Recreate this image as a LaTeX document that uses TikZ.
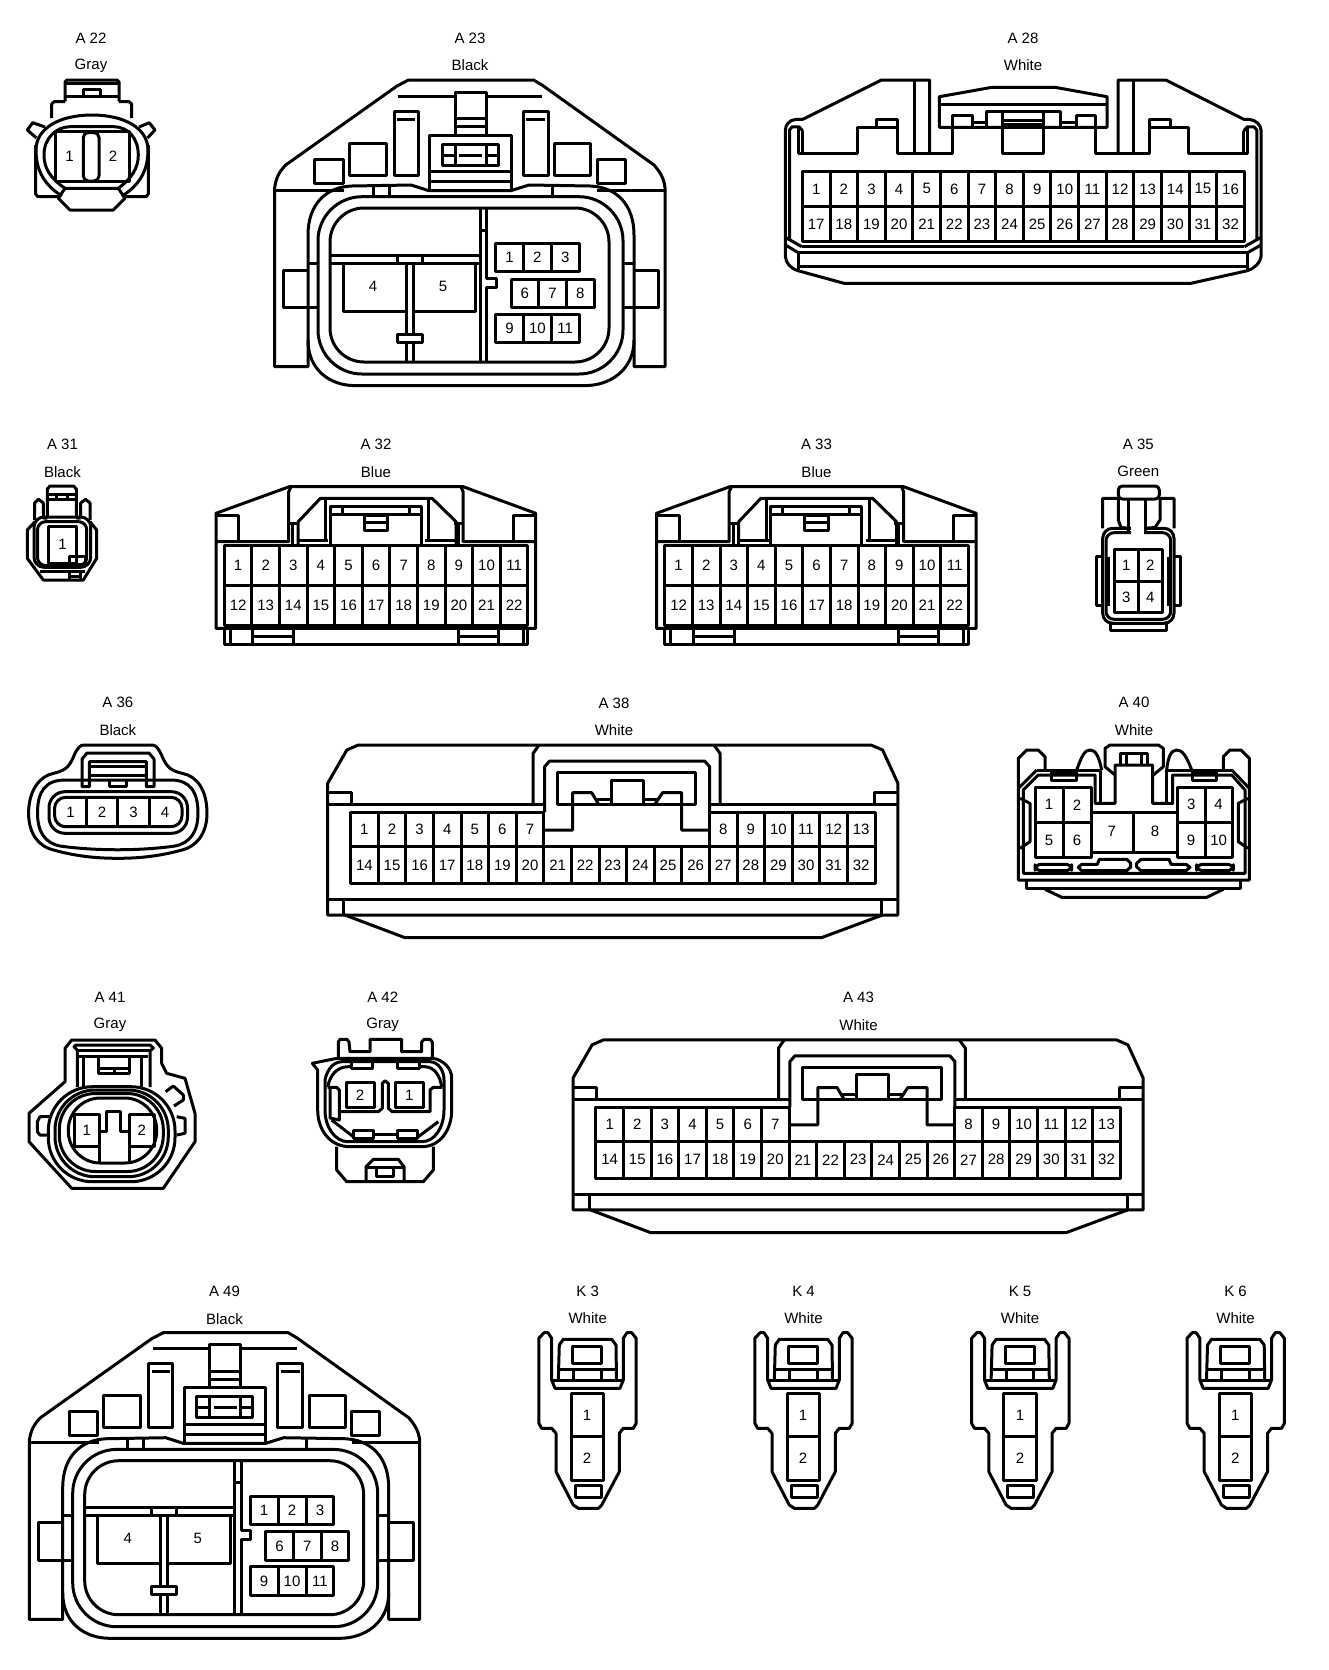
\documentclass[tikz,border=0pt]{standalone}
\usepackage{fontspec}
\setmainfont{Liberation Sans}
\tikzset{
  pintext/.style={font=\fontsize{7.5}{9}\selectfont, inner sep=0pt, text=black},
  conn/.style={line width=1.5pt, line join=round, draw=black},
  erase/.style={line width=2.2pt, draw=white},
}
\newcommand{\pintxt}[4]{\node[pintext] (#1) at (#2,#3) {#4};}
% prefix, x0, w, ytop, ybot, first, count
\newcommand{\cellrow}[7]{%
  \foreach \k in {1,...,#7}{%
    \pgfmathtruncatemacro\num{#6+\k-1}%
    \pgfmathsetmacro\xa{#2+(\k-1)*#3}%
    \pgfmathsetmacro\xb{#2+\k*#3}%
    \pgfmathsetmacro\xm{(\xa+\xb)/2}%
    \pgfmathsetmacro\ym{(#4+#5)/2}%
    \draw[conn] (\xa,#4) rectangle (\xb,#5);
    \node[pintext] (#1-\num) at (\xm,\ym) {\num};
  }%
}
\newcommand{\head}[6]{% id, x, y1, name, y2, colour
  \node[pintext] (#1-name) at (#2,#3) {#4};
  \node[pintext] (#1-col) at (#2,#5) {#6};
}

% --- A23 / A49 ---------------------------------------------------
\newcommand{\ConnBig}[1]{%
 \begin{scope}[conn]
 \draw (308,340) -- (308,366.7) -- (274.6,366.7) -- (274.6,188) .. controls (276,178) and (279,172) .. (285.7,165) -- (397,86) -- (408.5,80) -- (533.5,80) -- (542,85) -- (654,165) .. controls (660,172) and (664,178) .. (665,188) -- (665,366.7) -- (634,366.7) -- (634,340);
 \draw (274.6,190) -- (344,190) (597,190) -- (665,190);
 \draw (308,235) .. controls (308,205) and (325,187) .. (352,186) -- (411,185) -- (428.6,190.6) -- (511,190.6) -- (529,185) -- (590,186) .. controls (617,187) and (634,205) .. (634,235) -- (634,340) .. controls (634,370) and (610,385.6) .. (585,385.6) -- (355,385.6) .. controls (330,385.6) and (308,370) .. (308,340) -- cycle;
 \draw[rounded corners=22pt] (318,196.7) rectangle (623,374);
 \draw[rounded corners=17pt] (330,208) rectangle (609,362);
 \draw (373,186) -- (373,197) (389,186) -- (389,197) (552,186) -- (552,197);
 % top detail
 \draw (398,96) -- (455,96) (486,96) -- (542,96);
 \draw (455,135) -- (455,92) -- (486,92) -- (486,135);
 \draw (455,118.3) -- (486,118.3) (455,126.7) -- (486,126.7);
 \draw (429.5,190) -- (429.5,135) -- (511,135) -- (511,190);
 \draw (442,144) rectangle (498,165);
 \draw (455,144) -- (455,165) (486,144) -- (486,165);
 \draw (442,155) -- (455,155) (486,155) -- (498,155);
 \draw (459,155) -- (482,155);
 \draw (429.5,171.7) -- (511,171.7) (429.5,181.7) -- (511,181.7);
 \draw (394,111) rectangle (418,175);
 \draw (523,111) rectangle (548,175);
 \draw (397,119) -- (415,119) (526,119) -- (545,119);
 \draw (349,143) rectangle (386,175);
 \draw (554.5,143) rectangle (590.6,175);
 \draw (314.7,159) rectangle (343,183);
 \draw (597,159) rectangle (625,183);
 % side tabs
 \draw (308,270) -- (283.5,270) -- (283.5,307.3) -- (308,307.3);
 \draw (634,270) -- (658.5,270) -- (658.5,307.3) -- (634,307.3);
 \draw (308,263) -- (318,263) (308,307.3) -- (318,307.3);
 \draw (623,263) -- (634,263) (623,307.3) -- (634,307.3);
 % internals
 \draw (480,208) -- (480,362);
 \draw (486.6,208) -- (486.6,278) -- (496,278) -- (496,287) -- (486.6,287) -- (486.6,362);
 \draw (480,230) -- (486.6,230);
 \draw (331,255) -- (480,255) (331,263) -- (480,263);
 \draw (397,255) -- (397,263) (422,255) -- (422,263);
 \draw (343,263) -- (343,311) -- (405,311) (414,311) -- (475.4,311) -- (475.4,263);
 \draw (406,263) -- (406,334) (413,263) -- (413,334);
 \draw (397,334) rectangle (422,342);
 \draw (406,342) -- (406,362) (413,342) -- (413,362);
 \end{scope}
 \pintxt{#1-4}{373}{286}{4}
 \pintxt{#1-5}{443}{286}{5}
 \cellrow{#1}{495.5}{27.9}{243.3}{271.7}{1}{3}
 \cellrow{#1}{511}{27.7}{279}{307.3}{6}{3}
 \cellrow{#1}{495.5}{27.9}{314}{342.7}{9}{3}
}

% --- A32 / A33 ---------------------------------------------------
\newcommand{\ConnBlue}[1]{%
 \begin{scope}[conn]
 \draw (216,628.3) -- (216,513.3) -- (289.3,486.7) -- (463.2,486.7) -- (535.7,513.3) -- (535.7,628.3) -- cycle;
 \draw (224.3,628.3) -- (224.3,644) -- (527.9,644) -- (527.9,628.3);
 \draw (230.4,628.3) -- (230.4,644) (252.9,628.3) -- (252.9,644) (293.6,628.3) -- (293.6,644);
 \draw (458.2,628.3) -- (458.2,644) (498.2,628.3) -- (498.2,644) (523.2,628.3) -- (523.2,644);
 \draw (252.9,636.7) -- (293.6,636.7) (458.2,636.7) -- (498.2,636.7);
 \draw (216,515) -- (238.6,515) -- (238.6,541.7);
 \draw (216,541.7) -- (288.6,541.7) -- (288.6,492) -- (291,486.7);
 \draw (535.7,515) -- (513.2,515) -- (513.2,541.7);
 \draw (535.7,541.7) -- (463.2,541.7) -- (463.2,492) -- (461,486.7);
 \draw (288.6,523.3) -- (297,523.3) (463.2,523.3) -- (453.6,523.3);
 \draw (292.9,523.3) -- (292.9,545) (458.2,523.3) -- (458.2,545);
 \draw (298.2,545) -- (298.2,521.7) -- (320.4,498.3) -- (432.1,498.3) -- (456,521.7) -- (456,545);
 \draw (298.2,540.7) -- (328,540.7) (425,540.7) -- (456,540.7);
 \draw (325.7,498.3) -- (325.7,541) (428.5,498.3) -- (428.5,541);
 \draw (330.4,545) -- (330.4,506) -- (421.4,506) -- (421.4,545);
 \draw (330.4,514) -- (421.4,514);
 \draw (342,506) -- (342,514) (409,506) -- (409,514);
 \draw (364.3,515) rectangle (387.5,530);
 \draw (364.3,522.7) -- (387.5,522.7);
 \end{scope}
 \cellrow{#1}{224.3}{27.6}{545}{585}{1}{11}
 \cellrow{#1}{224.3}{27.6}{585}{625}{12}{11}
}

% --- A38 / A43 ---------------------------------------------------
\newcommand{\ConnWide}[1]{%
 \begin{scope}[conn]
 \draw (327.7,915) -- (327.7,783.3) -- (346.8,750) -- (358.3,745) -- (871,745) -- (882.6,750) -- (897.9,783.3) -- (897.9,915) -- cycle;
 \draw (344.9,915) -- (405,937.7) -- (821.3,937.7) -- (882.6,915);
 \draw (327.7,899.3) -- (897.9,899.3);
 \draw (343.7,899.3) -- (343.7,915) (881.8,899.3) -- (881.8,915);
 \draw (327.7,804.3) -- (544.6,804.3) (709.6,804.3) -- (897.9,804.3);
 \draw (327.7,792.7) -- (351.4,792.7) -- (351.4,804.3);
 \draw (897.9,792.7) -- (874.2,792.7) -- (874.2,804.3);
 \draw (533.2,804.3) -- (533.2,753.3) -- (539,745);
 \draw (720,804.3) -- (720,753.3) -- (714,745);
 \draw (544.6,812.3) -- (544.6,766.7) -- (549.6,761) -- (704.6,761) -- (709.6,766.7) -- (709.6,812.3);
 \draw (557.3,772.7) rectangle (695.8,804.3);
 \draw (543.8,830) -- (572.6,830) -- (572.6,792.7) -- (591.7,792.7) -- (598.6,804.3);
 \draw (709.6,830) -- (681.7,830) -- (681.7,792.7) -- (662.5,792.7) -- (654.9,804.3);
 \draw (595,799.3) -- (611.6,799.3) (643.4,799.3) -- (658,799.3);
 \draw (611.6,804.3) -- (611.6,780) -- (643.4,780) -- (643.4,804.3);
 \end{scope}
 \cellrow{#1}{350.6}{27.6}{812.3}{846.7}{1}{7}
 \cellrow{#1}{709.4}{27.6}{812.3}{846.7}{8}{6}
 \cellrow{#1}{350.6}{27.6}{846.7}{883.3}{14}{19}
}

% --- K ------------------------------------------------------------
\newcommand{\ConnK}[1]{%
 \begin{scope}[conn]
 \draw (541.7,1428.3) -- (538.8,1423.3) -- (538.8,1338.3) -- (544,1332.7) -- (548,1332.7) -- (551.7,1338.3) -- (551.7,1380) -- (555,1388.3) -- (620,1388.3) -- (623.3,1380) -- (623.3,1338.3) -- (627,1332.7) -- (631.7,1332.7) -- (636.2,1338.3) -- (636.2,1423.3) -- (633.3,1428.3) -- (623.3,1428.3) -- (619.3,1433.3) -- (619.3,1471.7) -- (601.7,1505) -- (598.3,1508.3) -- (578.3,1508.3) -- (573.3,1505) -- (556,1471.7) -- (556,1433.3) -- (551.7,1428.3) -- cycle;
 \draw (558.3,1380) -- (559.3,1345) -- (563.3,1339.3) -- (611.7,1339.3) -- (616,1345) -- (616.5,1380);
 \draw (559,1369.3) -- (616,1369.3);
 \draw (553,1380) -- (622,1380);
 \draw (573.3,1369.3) -- (573.3,1380) (601,1369.3) -- (601,1380);
 \draw (572.7,1346.7) rectangle (601.7,1363.3);
 \draw (575,1485.5) rectangle (601,1497);
 \end{scope}
 \cellrow{#1}{571}{32.3}{1393.3}{1436.7}{1}{1}
 \cellrow{#1}{571}{32.3}{1436.7}{1480.5}{2}{1}
}

\begin{document}
\begin{tikzpicture}[x=0.5pt,y=-0.5pt]
\useasboundingbox (0,0) rectangle (1328,1670);

% ===== A22 =====
\head{a22}{91}{38}{A 22}{65.5}{Gray}
\begin{scope}[conn]
 \draw (65,101.7) -- (65,82) -- (67,80) -- (117,80) -- (119,82) -- (119,101.7);
 \draw (65,83.5) -- (119,83.5);
 \draw (65,96.7) -- (119,96.7);
 \draw (83.3,96.7) -- (83.3,89.3) -- (100,89.3) -- (100,96.7);
 \draw (51.7,118) -- (51.7,104) -- (54,101.7) -- (65,101.7) (119,101.7) -- (129,101.7) -- (131.7,104) -- (131.7,118);
 \draw (62,196) .. controls (44,185) and (36,170) .. (36,150) .. controls (36,128) and (60,115) .. (92,115) .. controls (124,115) and (148,128) .. (148,150) .. controls (148,170) and (140,185) .. (122,196);
 \draw (65,188.3) .. controls (50,178) and (44,168) .. (44,155) .. controls (44,138) and (56,127) .. (70,126.7) -- (114,126.7) .. controls (128,127) and (138.3,138) .. (138.3,155) .. controls (138.3,168) and (132,178) .. (118.3,188.3) -- cycle;
 \draw (55.7,131.7) rectangle (129,181.7);
 \draw[rounded corners=2.5pt] (83.3,132.5) rectangle (99,181);
 \draw (36.5,138) -- (27.3,130) -- (32.7,122.7) -- (45,127);
 \draw (147.5,138) -- (155,130) -- (149.3,122.7) -- (139,127);
 \draw (35.5,145) -- (35.5,194) -- (38,196.7) -- (60,196.7);
 \draw (148.3,145) -- (148.3,194) -- (146,196.7) -- (123.3,196.7);
 \draw (65,188.3) -- (58.3,198.3) -- (70,210) -- (113.3,210) -- (125,198.3) -- (118.3,188.3);
\end{scope}
\pintxt{a22-1}{69.5}{156}{1}
\pintxt{a22-2}{113}{156}{2}

% ===== A23 =====
\head{a23}{470}{38}{A 23}{65.5}{Black}
\ConnBig{a23}

% ===== A28 =====
\head{a28}{1023}{38}{A 28}{65.5}{White}
\begin{scope}[conn]
 \draw (802.8,119.3) -- (881.4,80) -- (929.6,80) -- (929.6,153.3);
 \draw (914,80) -- (914,153.3);
 \draw (802.8,119.3) -- (796,119.3) .. controls (789,120) and (785.4,125) .. (785.4,130) -- (785.4,256.7) .. controls (786,263) and (790,268) .. (798,270.7) -- (844,283.3) -- (1191,283.3) -- (1247.3,270.7) .. controls (1255,268) and (1260,263) .. (1261,256.7) -- (1261,130) .. controls (1261,125) and (1256,120) .. (1249,119.3) -- (1243.7,119.3) -- (1165.8,80) -- (1118,80) -- (1118,153.3);
 \draw (1133,80) -- (1133,153.3);
 \draw (789.5,240) -- (789.5,130) -- (792,126.8) -- (799,126.8) -- (802.8,131);
 \draw (1256.8,240) -- (1256.8,130) -- (1254,126.8) -- (1247.3,126.8) -- (1243.7,131);
 \draw (798.3,128.3) -- (798.3,153.3) -- (857.8,153.3) -- (857.8,127.3) -- (876.7,127.3) -- (876.7,119) -- (897,119) -- (897,153.3) -- (952,153.3) -- (952,115) -- (972,115) -- (972,127.3);
 \draw (802.8,131) -- (802.8,153.3) (1243.7,131) -- (1243.7,153.3);
 \draw (876.7,127.3) -- (897,127.3) (1149.5,127.3) -- (1170,127.3);
 \draw (1247.5,128.3) -- (1247.5,153.3) -- (1188.6,153.3) -- (1188.6,127.3) -- (1170,127.3) -- (1170,119) -- (1149.5,119) -- (1149.5,153.3) -- (1095,153.3) -- (1095,115) -- (1076,115) -- (1076,127.3);
 \draw (939.3,96.7) -- (992,87.3) -- (1055,87.3) -- (1107,96.7) -- (1107,127.3) -- (939.3,127.3) -- cycle;
 \draw (939.3,104.3) -- (1107,104.3);
 \draw (986.4,127.3) -- (986.4,111.7) -- (1060,111.7) -- (1060,127.3);
 \draw (1002,111.7) -- (1002,153.3) -- (1043.3,153.3) -- (1043.3,111.7);
 \draw (1002,120) -- (1043.3,120) (1002,124) -- (1043.3,124);
 \draw (972,122) -- (986.4,122) (1060,122) -- (1076,122);
 \draw (801.7,246.7) -- (1244.4,246.7) (798.3,252.7) -- (1247.5,252.7) (798.3,266) -- (1247.5,266);
 \draw (798.3,252.7) -- (798.3,270) (1247.5,252.7) -- (1247.5,270);
 \draw (785.4,237.3) -- (801.7,246.7) (1261,237.3) -- (1244.4,246.7);
 \draw (785.4,245) -- (798.3,252.7) (1261,245) -- (1247.5,252.7);
\end{scope}
\cellrow{a28}{802.4}{27.62}{171.7}{206}{1}{16}
\cellrow{a28}{802.4}{27.62}{206}{241.7}{17}{16}

% ===== A31 =====
\head{a31}{62.5}{444}{A 31}{471.7}{Black}
\begin{scope}[conn]
 \draw (47.3,517) -- (47.3,489) -- (50,486) -- (73.5,486) -- (76.3,489) -- (76.3,517);
 \draw (47.3,494) -- (76.3,494) (47.3,499) -- (76.3,499);
 \draw (56.7,494) -- (56.7,499) (67,494) -- (67,499);
 \draw (34.5,520) -- (34.5,503) -- (38.5,499.3) -- (43.3,503) -- (43.3,518) -- (47.3,518);
 \draw (80.7,518) -- (80.7,503) -- (85.5,499.3) -- (90,503) -- (90,520) (76.3,518) -- (80.7,518);
 \draw (35,521.7) -- (27.3,530) -- (27.3,558.3) -- (43.3,580) -- (83.3,580) -- (96.7,558.3) -- (96.7,530) -- (90,521.7);
 \draw[rounded corners=5pt] (34,517) rectangle (90.7,567.3);
 \draw[rounded corners=4pt] (37.5,521.7) rectangle (86.7,565.5);
 \draw (48.3,526.7) rectangle (76,563.3);
 \draw (69.3,556.7) rectangle (85,564.5);
 \draw (40,571.7) -- (85,571.7);
 \draw (69.3,571.7) -- (69.3,580) (80.4,571.7) -- (80.4,580) (69.3,576) -- (80.4,576);
\end{scope}
\pintxt{a31-1}{62.5}{544.3}{1}

% ===== A32, A33 =====
\head{a32}{376}{444}{A 32}{471.7}{Blue}
\ConnBlue{a32}
\head{a33}{816.5}{444}{A 33}{471.7}{Blue}
\begin{scope}[shift={(440.5,0)}]\ConnBlue{a33}\end{scope}

% ===== A35 =====
\head{a35}{1138.3}{444}{A 35}{471.7}{Green}
\begin{scope}[conn]
 \draw[rounded corners=2pt] (1118.3,486) rectangle (1159.3,499);
 \draw (1102.7,528.3) -- (1102.7,498.3) -- (1118.3,498.3) -- (1118.3,520) -- (1121,527.5) -- (1128.3,528.3);
 \draw (1174,528.3) -- (1174,498.3) -- (1160,498.3) -- (1160,520) -- (1155,527.5) -- (1145.7,528.3);
 \draw[rounded corners=5pt] (1102.7,528.3) rectangle (1174,623.3);
 \draw[rounded corners=4pt] (1106,532.7) rectangle (1170.7,619.3);
 \draw[erase] (1130.5,528.3) -- (1143.5,528.3) (1130.5,532.7) -- (1143.5,532.7);
 \draw (1128.3,499) -- (1128.3,533) (1145.7,499) -- (1145.7,533);
 \draw (1102.7,556.7) -- (1096,556.7) -- (1096,605.7) -- (1102.7,605.7);
 \draw (1174,556.7) -- (1180,556.7) -- (1180,605.7) -- (1174,605.7);
 \draw (1108,556.7) -- (1108,605.7) (1168.5,556.7) -- (1168.5,605.7);
 \draw (1110,623.3) -- (1110,630.7) -- (1166,630.7) -- (1166,623.3);
\end{scope}
\cellrow{a35}{1114.3}{24}{549.3}{581}{1}{2}
\cellrow{a35}{1114.3}{24}{581}{612.7}{3}{2}

% ===== A36 =====
\head{a36}{117.9}{702.7}{A 36}{730}{Black}
\begin{scope}[conn]
 \draw (28.6,813.3) .. controls (28.6,790) and (40,776) .. (53.6,773.3) .. controls (68,770) and (70,765) .. (75,753.3) .. controls (78,748) and (80,745) .. (84,745) -- (151.8,745) .. controls (156,745) and (158,748) .. (160.7,753.3) .. controls (166,765) and (168,770) .. (182,773.3) .. controls (197,776) and (207,790) .. (207,813.3) .. controls (207,835) and (195,847) .. (182,850) .. controls (160,856) and (140,858.3) .. (118,858.3) .. controls (95,858.3) and (75,856) .. (53.6,850) .. controls (40,847) and (28.6,835) .. (28.6,813.3) -- cycle;
 \draw (37.5,813) .. controls (37.5,792) and (45,780) .. (65,780) -- (171,780) .. controls (190,780) and (198,792) .. (198,813) .. controls (198,832) and (190,843) .. (175,846) .. controls (140,851) and (95,851) .. (60,846) .. controls (45,843) and (37.5,832) .. (37.5,813) -- cycle;
 \draw[rounded corners=8pt] (49,791.7) rectangle (187.5,833.3);
 \draw[rounded corners=5.5pt] (54.6,797.3) rectangle (182,826.7);
 \draw (86.8,797.3) -- (86.8,826.7) (117.9,797.3) -- (117.9,826.7) (149.3,797.3) -- (149.3,826.7);
 \draw (82,786.7) -- (82,759) -- (87,753) -- (149,753) -- (154,759) -- (154,786.7) -- (146.4,786.7) -- (146.4,761.7) -- (89.3,761.7) -- (89.3,786.7) -- cycle;
 \draw (89.3,766.7) -- (146.4,766.7) (89.3,775) -- (146.4,775);
 \draw (109,780) -- (109,786.7) -- (126.8,786.7) -- (126.8,780);
\end{scope}
\pintxt{a36-1}{70.5}{812}{1}
\pintxt{a36-2}{102}{812}{2}
\pintxt{a36-3}{133.5}{812}{3}
\pintxt{a36-4}{165}{812}{4}

% ===== A38 =====
\head{a38}{614}{703.5}{A 38}{730.5}{White}
\ConnWide{a38}

% ===== A40 =====
\head{a40}{1134}{702.7}{A 40}{730}{White}
\begin{scope}[conn]
 \draw (1036.7,770) -- (1018.3,788.3) -- (1018.3,880) -- (1249.3,880) -- (1249.3,788.3) -- (1231.7,770);
 \draw (1018.3,788) -- (1018.3,758.3) -- (1026.7,750) -- (1038.3,750) -- (1045,756.7) -- (1045,770);
 \draw (1249.3,788) -- (1249.3,758.3) -- (1241,750) -- (1230,750) -- (1223.3,756.7) -- (1223.3,770);
 \draw (1036.7,770) -- (1100,770) -- (1100,803.3) (1166.7,803.3) -- (1166.7,770) -- (1231.7,770);
 \draw (1026.7,880) -- (1026.7,888.3) -- (1240.7,888.3) -- (1240.7,880);
 \draw (1045,889.3) -- (1061.7,897.3) -- (1206.7,897.3) -- (1223.3,889.3);
 \draw (1023.3,873.3) -- (1023.3,790) -- (1038.3,775) -- (1095,775) -- (1095,803.3) -- (1115,803.3) -- (1115,765) -- (1152.7,765) -- (1152.7,803.3) -- (1172.7,803.3) -- (1172.7,775) -- (1231.7,775) -- (1245,790) -- (1245,873.3) -- cycle;
 \draw (1051.7,772) rectangle (1076.7,780);
 \draw (1192.7,772) rectangle (1216.7,780);
 \draw (1076.7,770) .. controls (1082,755) and (1085,750) .. (1090,750) .. controls (1096,750) and (1099,757) .. (1101.7,770);
 \draw (1191.7,770) .. controls (1186,755) and (1182,750) .. (1176.7,750) .. controls (1171,750) and (1168,757) .. (1166.7,770);
 \draw (1115,775) -- (1105,766.7) -- (1105,748.3) -- (1110,745) -- (1158.3,745) -- (1163.3,748.3) -- (1163.3,766.7) -- (1153.3,775);
 \draw (1120.7,765) -- (1120.7,753.3) -- (1147.3,753.3) -- (1147.3,765);
 \draw (1126.7,753.3) -- (1126.7,765) (1141.7,753.3) -- (1141.7,765);
 \draw (1020,798.3) -- (1030,803.3) -- (1030,841.7) -- (1020,848.3);
 \draw (1248,798.3) -- (1238.3,803.3) -- (1238.3,841.7) -- (1248,848.3);
 \draw[rounded corners=3pt] (1035,864.3) rectangle (1071.7,870.7);
 \draw[rounded corners=3pt] (1196.7,864.3) rectangle (1233.3,870.7);
 \draw (1081.7,864.3) -- (1097.3,864.3) -- (1099.3,859.3) -- (1126.7,859.3) -- (1130.7,863.3) -- (1130.7,867) -- (1126.7,870.7) -- (1081.7,870.7) -- (1078.3,867.3) -- cycle;
 \draw (1186,864.3) -- (1171,864.3) -- (1169,859.3) -- (1141,859.3) -- (1136.7,863.3) -- (1136.7,867) -- (1141,870.7) -- (1186,870.7) -- (1190,867.3) -- cycle;
\end{scope}
\cellrow{a40}{1035}{28}{787.3}{822.3}{1}{2}
\cellrow{a40}{1035}{28}{822.3}{857.7}{5}{2}
\cellrow{a40}{1177.7}{27.3}{787.3}{822.3}{3}{2}
\begin{scope}[conn]
 \draw (1177.7,822.3) rectangle (1205,857.7) (1205,822.3) rectangle (1232.3,857.7);
 \draw (1091,812.7) rectangle (1133.3,852.3) (1133.3,812.7) rectangle (1177.7,852.3);
\end{scope}
\pintxt{a40-9}{1191}{840}{9}
\pintxt{a40-10}{1218.7}{840}{10}
\pintxt{a40-7}{1111.7}{831.7}{7}
\pintxt{a40-8}{1155}{831.7}{8}

% ===== A41 =====
\head{a41}{110}{997.3}{A 41}{1024.5}{Gray}
\begin{scope}[conn]
 \draw (29,1113.3) -- (65,1081.7) -- (65,1048.3) -- (71.7,1040) -- (155,1040) -- (161.7,1048.3) -- (161.7,1063.3) -- (166.7,1073.3) -- (185,1078.3) -- (195,1113.3) -- (195,1141.7) -- (163.3,1188.3) -- (71.7,1188.3) -- (29,1141.7) -- cycle;
 \draw[rounded corners=22pt] (48.3,1086.7) rectangle (175,1181.7);
 \draw[rounded corners=20pt] (55,1090) rectangle (168.3,1176.7);
 \draw[rounded corners=18pt] (59.3,1093.5) rectangle (163.3,1171.5);
 \draw[rounded corners=16pt] (68.3,1098) rectangle (156.7,1163);
 \draw (74,1114) rectangle (99.3,1146.7);
 \draw (129.3,1114) rectangle (154,1146.7);
 \draw (99.3,1146.7) -- (99.3,1162) (129.3,1146.7) -- (129.3,1162);
 \draw (99.3,1131.7) -- (106,1131.7) -- (106,1111.7) -- (120.7,1111.7) -- (120.7,1131.7) -- (129.3,1131.7);
 \draw (50,1116.7) -- (40,1116.7) -- (37.3,1121.7) -- (37.3,1131.7) -- (40,1135) -- (50,1135);
 \draw (176.7,1116.7) -- (185,1118.3) -- (185,1133.3) -- (176.7,1135);
 \draw (165.7,1091.7) -- (173.3,1086) -- (183.3,1095) -- (183.3,1100) -- (174,1106);
 \draw (77.3,1087) -- (77.3,1050) -- (74,1046.7) -- (76,1045) -- (150,1045) -- (153.3,1048) -- (150,1051) -- (150,1087);
 \draw (76,1050.7) -- (150,1050.7) (78,1056) -- (148,1056);
 \draw (83.3,1056) -- (83.3,1087) (141.7,1056) -- (141.7,1087);
 \draw (98.3,1056) -- (98.3,1073.3) -- (129.3,1073.3) -- (129.3,1056);
 \draw (98.3,1068.3) -- (129.3,1068.3) (114,1068.3) -- (114,1073.3);
\end{scope}
\pintxt{a41-1}{86.7}{1130.7}{1}
\pintxt{a41-2}{141.7}{1130.7}{2}

% ===== A42 =====
\head{a42}{382.7}{997.3}{A 42}{1024.5}{Gray}
\begin{scope}[conn]
 \draw (338.3,1058.3) -- (338.3,1042) -- (340,1039.3) -- (347,1039.3) -- (349,1042) -- (350,1051.7) -- (370,1051.7) -- (370,1039.3) -- (401.7,1039.3) -- (401.7,1051.7) -- (421.7,1051.7) -- (421.7,1042) -- (424,1039.3) -- (430,1039.3) -- (432.3,1042) -- (432.3,1058.3);
 % body
 \draw (312.3,1063.3) -- (333.3,1059) -- (338.3,1058.3) -- (433.3,1058.3) .. controls (443,1060) and (451.7,1068) .. (451.7,1078) -- (451.7,1110) .. controls (451.7,1130) and (440,1146.7) .. (421.7,1146.7) -- (350,1146.7) .. controls (330,1146.7) and (317.7,1130) .. (317.7,1110) -- (317.7,1070) -- cycle;
 \draw (325,1080) .. controls (327,1070) and (333,1062) .. (341.7,1061.7) -- (430,1061.7) .. controls (438,1062) and (444,1070) .. (444,1080) -- (444,1110) .. controls (444,1127) and (435,1141.7) .. (421.7,1141.7) -- (348,1141.7) .. controls (335,1141.7) and (325,1127) .. (325,1110) -- cycle;
 \draw (327.7,1087) .. controls (330,1075) and (337,1066.7) .. (348.3,1066.7) -- (351.7,1066.7) (419,1066.7) -- (425,1066.7) .. controls (434,1067) and (440,1075) .. (441.7,1087);
 \draw (331.7,1120) -- (353.3,1136.7) (418.3,1136.7) -- (438.3,1121.7);
 % tabs
 \draw (351.7,1060.7) rectangle (372.7,1068.3);
 \draw (397.7,1060.7) rectangle (419,1068.3);
 \draw (353.3,1130) rectangle (373.3,1138.3);
 \draw (397.7,1130) rectangle (417.7,1138.3);
 \draw (373.3,1134) -- (397.7,1134);
 % pins
 \draw (346,1082.7) rectangle (374,1107.3);
 \draw (395.7,1082.7) rectangle (423.3,1107.3);
 \draw (327.7,1087.3) -- (336.7,1087.3) -- (339.3,1090) -- (339.3,1111.7) -- (378.3,1111.7) -- (382.3,1108.3) -- (382.3,1083.3) -- (385,1080.7) -- (388.3,1083.3) -- (388.3,1108.3) -- (392.3,1111.7) -- (430,1111.7) -- (430,1090) -- (433.3,1087.3) -- (442.3,1087.3);
 \draw (330,1087.3) -- (330,1118) -- (339.3,1120) -- (339.3,1111.7);
 % lower
 \draw (336.7,1146.7) -- (336.7,1170) -- (346.7,1181.7) -- (423.3,1181.7) -- (433.3,1170) -- (433.3,1146.7);
 \draw (366,1181.7) -- (366,1166.7) -- (373.3,1159.3) -- (398.3,1159.3) -- (404,1166.7) -- (404,1181.7);
 \draw (366,1167.3) -- (404,1167.3);
 \draw (376.7,1167.3) -- (376.7,1176.7) -- (393.3,1176.7) -- (393.3,1167.3);
\end{scope}
\pintxt{a42-2}{360}{1095}{2}
\pintxt{a42-1}{409.3}{1095}{1}

% ===== A43 =====
\head{a43}{858.5}{997.7}{A 43}{1025}{White}
\begin{scope}[shift={(245.3,294.8)}]\ConnWide{a43}\end{scope}

% ===== A49 =====
\head{a49}{224.5}{1291.5}{A 49}{1319}{Black}
\begin{scope}[shift={(-245.3,1252.7)}]\ConnBig{a49}\end{scope}

% ===== K =====
\head{k3}{587.7}{1291}{K 3}{1318.3}{White}
\ConnK{k3}
\head{k4}{803.5}{1291}{K 4}{1318.3}{White}
\begin{scope}[shift={(216,0)}]\ConnK{k4}\end{scope}
\head{k5}{1020}{1291}{K 5}{1318.3}{White}
\begin{scope}[shift={(432.8,0)}]\ConnK{k5}\end{scope}
\head{k6}{1235.5}{1291}{K 6}{1318.3}{White}
\begin{scope}[shift={(648.2,0)}]\ConnK{k6}\end{scope}
\end{tikzpicture}
\end{document}
